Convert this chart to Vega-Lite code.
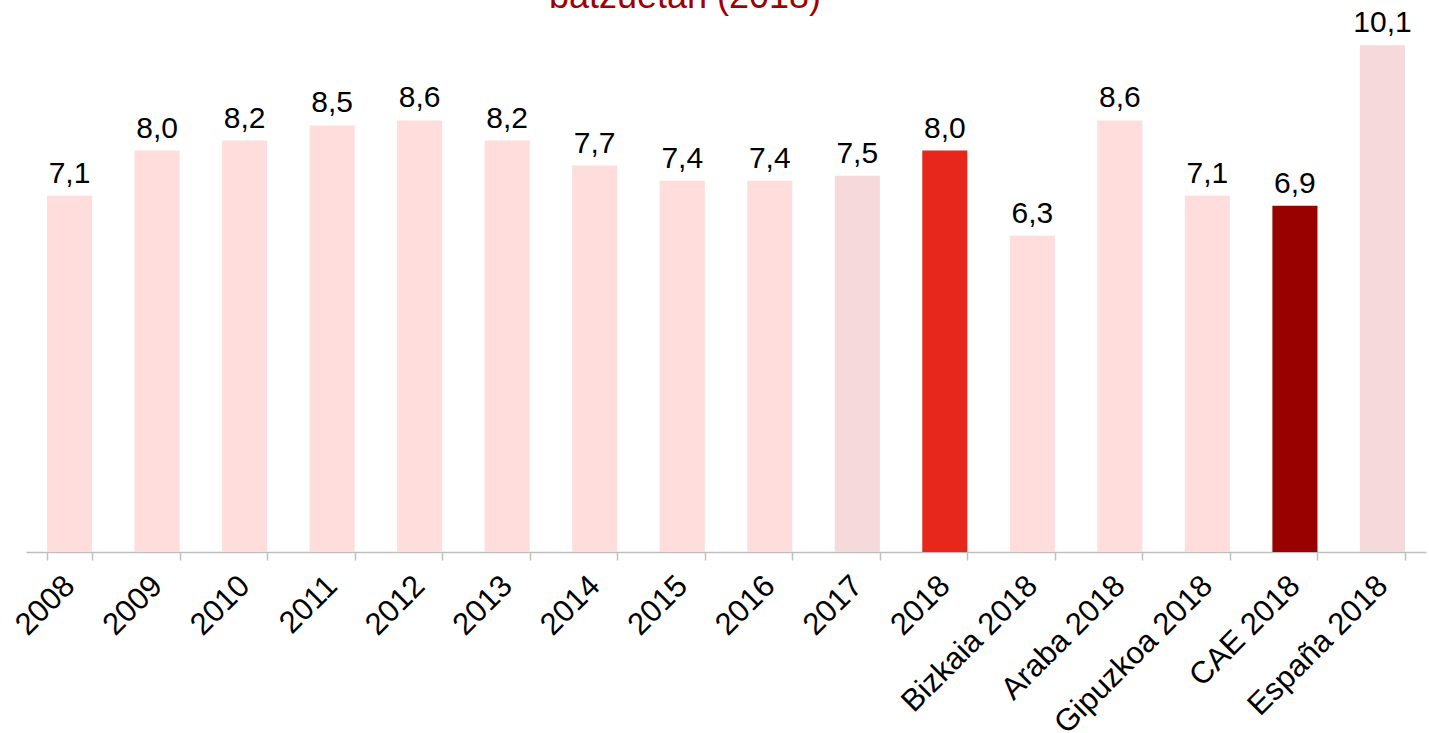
{
  "$schema": "https://vega.github.io/schema/vega-lite/v6.json",
  "width": 1400,
  "height": 552,
  "autosize": {"type": "none"},
  "padding": {"left": 26, "top": 0, "right": 3, "bottom": 181},
  "background": "white",
  "title": {
    "text": "batzuetan (2018)",
    "font": "Liberation Sans",
    "fontSize": 36,
    "fontWeight": "normal",
    "color": "#A00000",
    "anchor": "middle",
    "baseline": "alphabetic",
    "dx": -41,
    "dy": 44,
    "offset": 0
  },
  "data": {
    "values": [
      {"cat": "2008", "value": 7.1, "label": "7,1", "grp": "light"},
      {"cat": "2009", "value": 8.0, "label": "8,0", "grp": "light"},
      {"cat": "2010", "value": 8.2, "label": "8,2", "grp": "light"},
      {"cat": "2011", "value": 8.5, "label": "8,5", "grp": "light"},
      {"cat": "2012", "value": 8.6, "label": "8,6", "grp": "light"},
      {"cat": "2013", "value": 8.2, "label": "8,2", "grp": "light"},
      {"cat": "2014", "value": 7.7, "label": "7,7", "grp": "light"},
      {"cat": "2015", "value": 7.4, "label": "7,4", "grp": "light"},
      {"cat": "2016", "value": 7.4, "label": "7,4", "grp": "light"},
      {"cat": "2017", "value": 7.5, "label": "7,5", "grp": "pale"},
      {"cat": "2018", "value": 8.0, "label": "8,0", "grp": "red"},
      {"cat": "Bizkaia 2018", "value": 6.3, "label": "6,3", "grp": "light"},
      {"cat": "Araba 2018", "value": 8.6, "label": "8,6", "grp": "light"},
      {"cat": "Gipuzkoa 2018", "value": 7.1, "label": "7,1", "grp": "light"},
      {"cat": "CAE 2018", "value": 6.9, "label": "6,9", "grp": "dark"},
      {"cat": "España 2018", "value": 10.1, "label": "10,1", "grp": "pale"}
    ]
  },
  "encoding": {
    "x": {
      "field": "cat",
      "type": "nominal",
      "sort": null,
      "scale": {"paddingInner": 0.485, "paddingOuter": 0.24},
      "axis": {
        "title": null,
        "labelAngle": -45,
        "labelAlign": "right",
        "labelBaseline": "middle",
        "labelFont": "Liberation Sans",
        "labelFontSize": 31,
        "labelColor": "black",
        "labelPadding": 21,
        "labelLimit": 400,
        "domainColor": "#BFBFBF",
        "domainWidth": 1.5,
        "tickColor": "#BFBFBF",
        "tickWidth": 1.5,
        "tickSize": 8,
        "tickBand": "extent",
        "grid": false
      }
    },
    "y": {
      "field": "value",
      "type": "quantitative",
      "scale": {"domain": [0, 11], "nice": false},
      "axis": null
    }
  },
  "layer": [
    {
      "mark": {"type": "bar"},
      "encoding": {
        "color": {
          "field": "grp",
          "type": "nominal",
          "scale": {
            "domain": ["light", "pale", "red", "dark"],
            "range": ["#FFDDDD", "#F6D9DB", "#E8271C", "#990000"]
          },
          "legend": null
        }
      }
    },
    {
      "mark": {
        "type": "text",
        "baseline": "alphabetic",
        "dy": -13,
        "font": "Liberation Sans",
        "fontSize": 30,
        "color": "black"
      },
      "encoding": {"text": {"field": "label"}}
    }
  ],
  "config": {"view": {"stroke": null}}
}
